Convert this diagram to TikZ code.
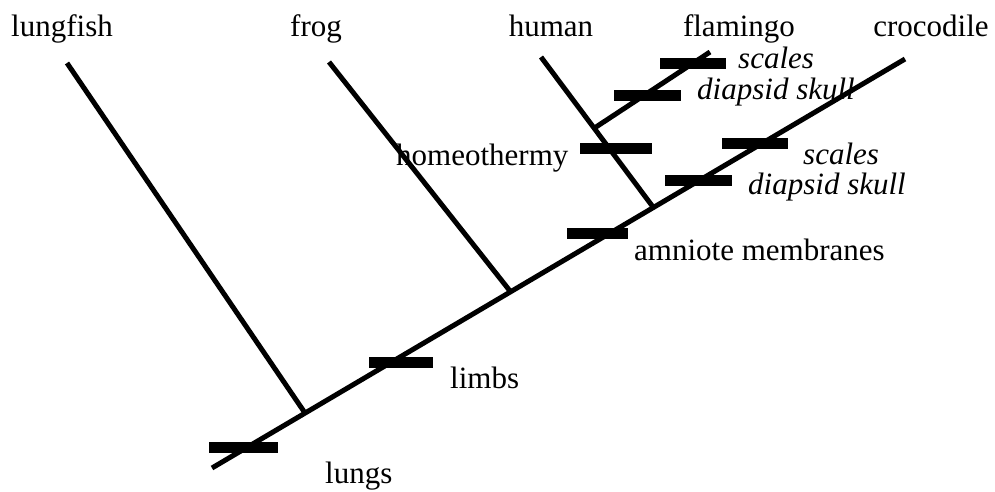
\documentclass[tikz,border=0pt]{standalone}
\usepackage{fontspec}
\setmainfont{Liberation Serif}
\begin{document}
\begin{tikzpicture}[x=1pt,y=-1pt,
  branch/.style={line width=5pt},
  trait/.style={rectangle, fill=black, inner sep=0pt, minimum height=11pt},
  taxon/.style={anchor=base, inner sep=0pt, font=\fontsize{31}{36}\selectfont},
  lab/.style={anchor=base west, inner sep=0pt, font=\fontsize{31}{36}\selectfont},
  ilab/.style={anchor=base west, inner sep=0pt, font=\fontsize{31}{36}\selectfont\itshape}]
\useasboundingbox (0,0) rectangle (995,491);

% taxon names
\node[taxon] (lungfish) at (62,36) {lungfish};
\node[taxon] (frog) at (316,36) {frog};
\node[taxon] (human) at (551,36) {human};
\node[taxon] (flamingo) at (739,36) {flamingo};
\node[taxon] (crocodile) at (931,36) {crocodile};

% branch tips and junctions
\coordinate (root) at (212,468);
\coordinate (crocTip) at (905,59);
\coordinate (lungfishTip) at (67,63);
\coordinate (j1) at (305,413);
\coordinate (frogTip) at (329,62);
\coordinate (j2) at (510,291);
\coordinate (humanTip) at (541,57);
\coordinate (j3) at (653,207);
\coordinate (flamingoTip) at (710,52);
\coordinate (j4) at (596,127);

% tree
\draw[branch] (root) -- (crocTip);
\draw[branch] (lungfishTip) -- (j1);
\draw[branch] (frogTip) -- (j2);
\draw[branch] (humanTip) -- (j3);
\draw[branch] (j4) -- (flamingoTip);

% character bars
\node[trait, minimum width=69pt] (lungsBar) at (243.5,447.5) {};
\node[trait, minimum width=64pt] (limbsBar) at (401,362) {};
\node[trait, minimum width=61pt] (amnioteBar) at (597.5,233.5) {};
\node[trait, minimum width=72pt] (homeoBar) at (616,148.5) {};
\node[trait, minimum width=67pt] (diapsidBarA) at (698.5,180.5) {};
\node[trait, minimum width=66pt] (scalesBarA) at (755,143.5) {};
\node[trait, minimum width=67pt] (diapsidBarB) at (647.5,95.5) {};
\node[trait, minimum width=66pt] (scalesBarB) at (693,63.5) {};

% character labels
\node[lab] (lungs) at (325,483) {lungs};
\node[lab] (limbs) at (450,388) {limbs};
\node[lab] (amniote) at (634,260) {amniote membranes};
\node[lab] (homeo) at (396,165) {homeothermy};
\node[ilab] (diapsidA) at (748,194) {diapsid skull};
\node[ilab] (scalesA) at (803,164) {scales};
\node[ilab] (diapsidB) at (697,99) {diapsid skull};
\node[ilab] (scalesB) at (738,68) {scales};
\end{tikzpicture}
\end{document}
